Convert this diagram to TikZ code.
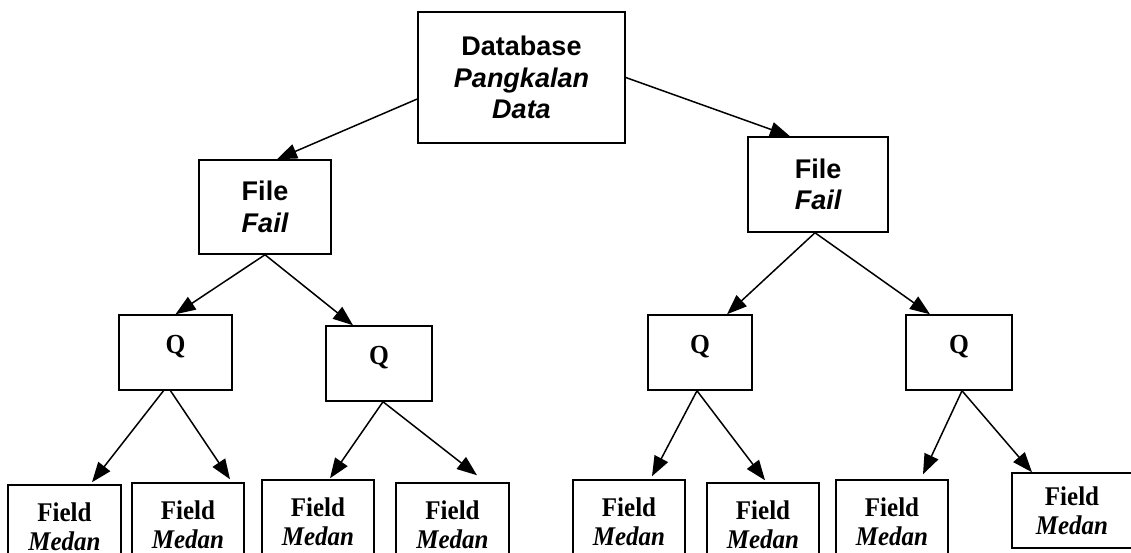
\documentclass[tikz,border=0pt]{standalone}
\usepackage{fontspec}
\setmainfont{Liberation Serif}
\newfontfamily\arialf{Liberation Sans}
\usetikzlibrary{arrows.meta}
\newcommand{\vstretch}[1]{\scalebox{1}[1.08]{#1}}
\tikzset{
  box/.style={draw, line width=1.5pt, inner sep=0pt, align=center},
  sansbox/.style={box, font=\arialf\fontsize{27}{31.5}\selectfont\bfseries},
  qbox/.style={box, font=\fontsize{25.5}{29}\selectfont\bfseries, minimum height=75pt, text height=38pt, text depth=37pt},
  fieldbox/.style={box, font=\fontsize{25}{29}\selectfont\bfseries},
  arr/.style={line width=1.5pt, -{Triangle[length=20pt,width=15pt]}}
}
\begin{document}
\begin{tikzpicture}[x=1pt,y=-1pt]
\useasboundingbox (0,0) rectangle (1131,553);
\clip (0,0) rectangle (1131,553);
% top
\node[sansbox, minimum width=207pt, minimum height=131pt] (db) at (521.5,77.5) {Database\\\itshape Pangkalan\\\itshape Data};
\node[sansbox, minimum width=132pt, minimum height=94pt] (fl) at (265,207) {File\\\itshape Fail};
\node[sansbox, minimum width=140pt, minimum height=95pt] (fr) at (818,184.5) {File\\\itshape Fail};
% Q boxes
\node[qbox, minimum width=113pt] (q1) at (175.5,352.5) {\vstretch{Q}};
\node[qbox, minimum width=106pt] (q2) at (379,363.5) {\vstretch{Q}};
\node[qbox, minimum width=104pt] (q3) at (700,352.5) {\vstretch{Q}};
\node[qbox, minimum width=106pt] (q4) at (959,352.5) {\vstretch{Q}};
% fields
\node[fieldbox, minimum width=113pt, minimum height=84pt] (f1) at (64.5,527) {\vstretch{Field}\\\vstretch{\itshape Medan}};
\node[fieldbox, minimum width=112pt, minimum height=84pt] (f2) at (188,525) {\vstretch{Field}\\\vstretch{\itshape Medan}};
\node[fieldbox, minimum width=112pt, minimum height=84pt] (f3) at (318,522) {\vstretch{Field}\\\vstretch{\itshape Medan}};
\node[fieldbox, minimum width=113pt, minimum height=84pt] (f4) at (452.5,525) {\vstretch{Field}\\\vstretch{\itshape Medan}};
\node[fieldbox, minimum width=112pt, minimum height=84pt] (f5) at (629,522) {\vstretch{Field}\\\vstretch{\itshape Medan}};
\node[fieldbox, minimum width=112pt, minimum height=84pt] (f6) at (763,525) {\vstretch{Field}\\\vstretch{\itshape Medan}};
\node[fieldbox, minimum width=112pt, minimum height=84pt] (f7) at (892,522) {\vstretch{Field}\\\vstretch{\itshape Medan}};
\node[fieldbox, minimum width=120pt, minimum height=75pt] (f8) at (1072,510.5) {\vstretch{Field}\\\vstretch{\itshape Medan}};
% connectors
\draw[arr] ([yshift=-21.5pt]db.west) -- ([xshift=12pt]fl.north);
\draw[arr] (db.east) -- ([xshift=-28pt]fr.north);
\draw[arr] (fl.south) -- (q1.north);
\draw[arr] (fl.south) -- ([xshift=-26pt]q2.north);
\draw[arr] ([xshift=-3pt]fr.south) -- ([xshift=27pt]q3.north);
\draw[arr] ([xshift=-3pt]fr.south) -- ([xshift=-29pt]q4.north);
\draw[arr] ([xshift=-12pt]q1.south) -- ([xshift=27.5pt,yshift=2pt]f1.north);
\draw[arr] ([xshift=-5pt]q1.south) -- ([xshift=42pt,yshift=3pt]f2.north);
\draw[arr] ([xshift=4pt]q2.south) -- ([xshift=12pt,yshift=1pt]f3.north);
\draw[arr] ([xshift=4pt]q2.south) -- ([xshift=24.5pt,yshift=7pt]f4.north);
\draw[arr] ([xshift=-3pt]q3.south) -- ([xshift=23pt,yshift=3pt]f5.north);
\draw[arr] ([xshift=-3pt]q3.south) -- ([xshift=2pt,yshift=2pt]f6.north);
\draw[arr] ([xshift=3pt]q4.south) -- ([xshift=31pt,yshift=5pt]f7.north);
\draw[arr] ([xshift=3pt]q4.south) -- ([xshift=-40pt]f8.north);
\end{tikzpicture}
\end{document}
